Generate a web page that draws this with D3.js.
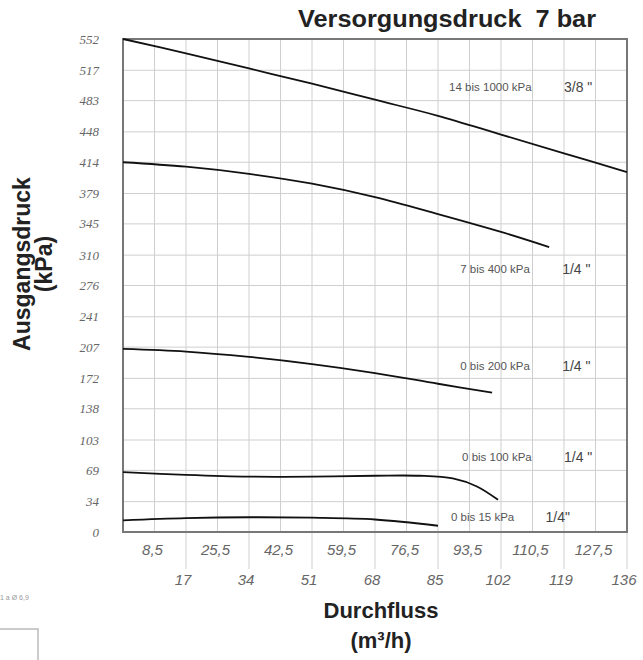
<!DOCTYPE html>
<html>
<head>
<meta charset="utf-8">
<script src="https://cdn.jsdelivr.net/npm/d3@7"></script>
<style>
  body { margin: 0; background: #fff; }
  svg { display: block; }
</style>
</head>
<body>
<svg id="chart" width="643" height="660"></svg>
<script>
// Durchfluss (m³/h) ticks, two staggered rows
const xTicksUpper = [8.5, 25.5, 42.5, 59.5, 76.5, 93.5, 110.5, 127.5];
const xTicksLower = [17, 34, 51, 68, 85, 102, 119, 136];
const yTicks = [0, 34, 69, 103, 138, 172, 207, 241, 276, 310, 345, 379, 414, 448, 483, 517, 552];

// curves
const flow1000 = [0, 17, 34, 51, 68, 85, 102, 119, 136];
const druck1000 = [552, 536, 519, 502, 484, 466, 445, 424, 403];

const flow400 = [0, 17, 34, 51, 68, 85, 102, 115];
const druck400 = [414, 409, 401, 390, 375, 356, 336, 319];

const flow200 = [0, 17, 34, 51, 68, 85, 99.6];
const druck200 = [205, 202, 196, 188, 178, 166, 156];

const flow100 = [0, 17, 34, 51, 68, 80, 89, 95.5, 101.2];
const druck100 = [67, 64, 62, 62, 63, 63, 60, 51, 36];

const flow15 = [0, 17, 34, 51, 68, 85];
const druck15 = [13, 15.5, 16.5, 16, 14, 7];

// curve labels: range text, connection size
const labelText = ['14 bis 1000 kPa', '7 bis 400 kPa', '0 bis 200 kPa', '0 bis 100 kPa', '0 bis 15 kPa'];
const labelSize = ['3/8 "', '1/4 "', '1/4 "', '1/4 "', '1/4"'];
const labelFlow = [88, 91, 91, 91.5, 88.5];
const sizeFlow = [119, 118.5, 118.5, 119, 114];
const labelDruck = [498, 294, 186, 84, 17];

const svg = d3.select('#chart');
const margin = { top: 39, right: 16, bottom: 128, left: 123 };
const width = +svg.attr('width') - margin.left - margin.right;
const height = +svg.attr('height') - margin.top - margin.bottom;

const x = d3.scaleLinear().domain([0, 136]).range([margin.left, margin.left + width]);
const y = d3.scaleLinear().domain([0, 552]).range([margin.top + height, margin.top]);

const grid = svg.append('g');

// vertical grid every 8.5
grid.selectAll('.vg')
  .data(d3.range(0, 137, 8.5))
  .enter().append('line')
  .attr('x1', d => x(d)).attr('x2', d => x(d))
  .attr('y1', y(552)).attr('y2', y(0))
  .attr('stroke', '#cfcfcf').attr('stroke-width', 1);

// the 17-lines run down between the label rows
grid.selectAll('.vt')
  .data(xTicksLower)
  .enter().append('line')
  .attr('x1', d => x(d)).attr('x2', d => x(d))
  .attr('y1', y(0)).attr('y2', y(0) + 37)
  .attr('stroke', '#cfcfcf').attr('stroke-width', 1);

grid.selectAll('.hg')
  .data(yTicks)
  .enter().append('line')
  .attr('x1', x(0)).attr('x2', x(136))
  .attr('y1', d => y(d)).attr('y2', d => y(d))
  .attr('stroke', '#cfcfcf').attr('stroke-width', 1);

// frame
svg.append('rect')
  .attr('x', x(0)).attr('y', y(552))
  .attr('width', x(136) - x(0)).attr('height', y(0) - y(552))
  .attr('fill', 'none').attr('stroke', '#777').attr('stroke-width', 2);

// y labels
svg.append('g').selectAll('text')
  .data(yTicks)
  .enter().append('text')
  .attr('x', x(0) - 24)
  .attr('y', d => y(d))
  .attr('dy', '0.35em')
  .attr('text-anchor', 'end')
  .attr('font-family', 'Liberation Serif, serif')
  .attr('font-style', 'italic')
  .attr('font-size', 13)
  .attr('fill', '#666')
  .text(d => d);

const fmt = d => String(d).replace('.', ',');

svg.append('g').selectAll('text')
  .data(xTicksUpper)
  .enter().append('text')
  .attr('x', d => x(d) - 2)
  .attr('y', y(0) + 23)
  .attr('text-anchor', 'middle')
  .attr('font-family', 'Liberation Sans, Arial, sans-serif')
  .attr('font-style', 'italic')
  .attr('font-size', 15)
  .attr('fill', '#666')
  .text(fmt);

svg.append('g').selectAll('text')
  .data(xTicksLower)
  .enter().append('text')
  .attr('x', d => x(d) - 3)
  .attr('y', y(0) + 53)
  .attr('text-anchor', 'middle')
  .attr('font-family', 'Liberation Sans, Arial, sans-serif')
  .attr('font-style', 'italic')
  .attr('font-size', 15)
  .attr('fill', '#666')
  .text(fmt);

// curves
const line = d3.line()
  .x(d => x(d[0]))
  .y(d => y(d[1]))
  .curve(d3.curveCatmullRom.alpha(0.5));

const series = [
  d3.zip(flow1000, druck1000),
  d3.zip(flow400, druck400),
  d3.zip(flow200, druck200),
  d3.zip(flow100, druck100),
  d3.zip(flow15, druck15)
];

svg.append('g').selectAll('path')
  .data(series)
  .enter().append('path')
  .attr('d', line)
  .attr('fill', 'none')
  .attr('stroke', '#111')
  .attr('stroke-width', 1.8);

// curve labels
const labels = svg.append('g');
labels.selectAll('.lt')
  .data(labelText)
  .enter().append('text')
  .attr('x', (d, i) => x(labelFlow[i]))
  .attr('y', (d, i) => y(labelDruck[i]))
  .attr('dy', '0.35em')
  .attr('font-family', 'Liberation Sans, Arial, sans-serif')
  .attr('font-size', 11.5)
  .attr('fill', '#555')
  .text(d => d);
labels.selectAll('.ls')
  .data(labelSize)
  .enter().append('text')
  .attr('x', (d, i) => x(sizeFlow[i]))
  .attr('y', (d, i) => y(labelDruck[i]))
  .attr('dy', '0.35em')
  .attr('font-family', 'Liberation Sans, Arial, sans-serif')
  .attr('font-size', 14)
  .attr('fill', '#444')
  .attr('xml:space', 'preserve')
  .text(d => d);

// titles
svg.append('text')
  .attr('x', 447).attr('y', 27)
  .attr('text-anchor', 'middle')
  .attr('font-family', 'Liberation Sans, Arial, sans-serif')
  .attr('font-weight', 'bold')
  .attr('font-size', 23)
  .attr('fill', '#222')
  .attr('xml:space', 'preserve')
  .attr('textLength', 298)
  .attr('lengthAdjust', 'spacingAndGlyphs')
  .text('Versorgungsdruck  7 bar');

const yTitle = svg.append('text')
  .attr('transform', 'translate(30,264) rotate(-90)')
  .attr('text-anchor', 'middle')
  .attr('font-family', 'Liberation Sans, Arial, sans-serif')
  .attr('font-weight', 'bold')
  .attr('font-size', 23)
  .attr('fill', '#222');
yTitle.append('tspan').attr('x', 0).attr('dy', 0).text('Ausgangsdruck');
yTitle.append('tspan').attr('x', 0).attr('dy', 22).text('(kPa)');

const xTitle = svg.append('text')
  .attr('text-anchor', 'middle')
  .attr('font-family', 'Liberation Sans, Arial, sans-serif')
  .attr('font-weight', 'bold')
  .attr('font-size', 22)
  .attr('fill', '#222');
xTitle.append('tspan').attr('x', 381).attr('y', 618).text('Durchfluss');
xTitle.append('tspan').attr('x', 381).attr('y', 648).text('(m³/h)');

// leftovers from the scanned page
svg.append('text')
  .attr('x', 0).attr('y', 600)
  .attr('font-family', 'Liberation Sans, Arial, sans-serif')
  .attr('font-size', 7)
  .attr('fill', '#999')
  .text('1 a Ø 6,9');
svg.append('rect')
  .attr('x', -2).attr('y', 629).attr('width', 40).attr('height', 40)
  .attr('fill', 'none').attr('stroke', '#bbb').attr('stroke-width', 1.5);
</script>
</body>
</html>
